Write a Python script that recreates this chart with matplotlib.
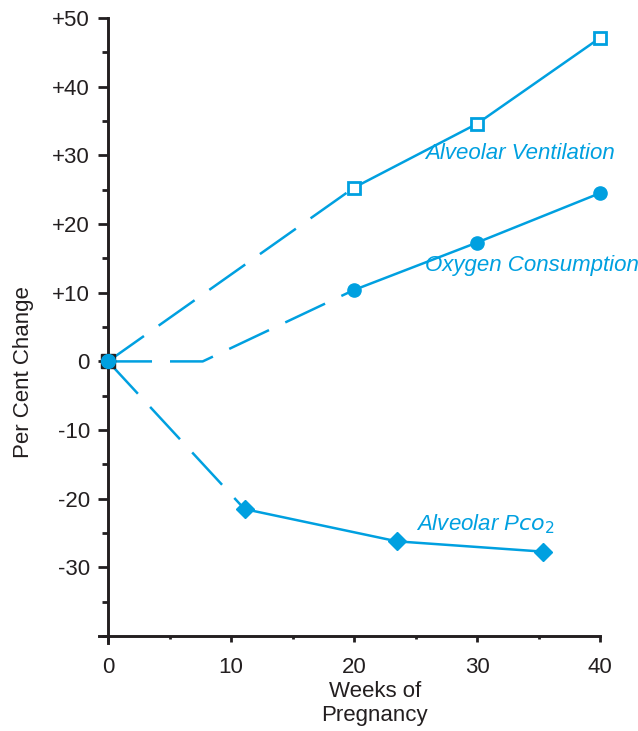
import matplotlib
matplotlib.use("Agg")
import matplotlib.pyplot as plt
from matplotlib.ticker import MultipleLocator

plt.rcParams['font.family'] = ['Liberation Sans', 'DejaVu Sans']

blue = '#00a0e0'
dark = '#231f20'

# weeks of pregnancy and per cent change
weeks_av = [20, 30, 40]
alveolar_vent = [25.3, 34.6, 47.1]
weeks_av_dash = [0, 20]
alveolar_vent_dash = [0, 25.3]

weeks_o2 = [20, 30, 40]
oxygen_cons = [10.4, 17.3, 24.5]
weeks_o2_dash = [0, 7.7, 20]
oxygen_cons_dash = [0, 0, 10.4]

weeks_pco2 = [11.1, 23.5, 35.4]
alveolar_pco2 = [-21.5, -26.2, -27.7]
weeks_pco2_dash = [0, 11.1]
alveolar_pco2_dash = [0, -21.5]

ytick_vals = [-30, -20, -10, 0, 10, 20, 30, 40, 50]
ytick_labels = ['-30', '-20', '-10', '0', '+10', '+20', '+30', '+40', '+50']
xtick_vals = [0, 10, 20, 30, 40]

fig = plt.figure(figsize=(6.38, 7.31), dpi=100)
ax = fig.add_axes([99.4/638, 1 - 643/731, (600 - 99.4)/638, (643 - 18)/731])

lw = 1.8
dash = (0, (17.6, 7.2))
ax.plot(weeks_av_dash, alveolar_vent_dash, color=blue, lw=lw, linestyle=dash)
ax.plot(weeks_o2_dash, oxygen_cons_dash, color=blue, lw=lw, linestyle=dash)
ax.plot(weeks_pco2_dash, alveolar_pco2_dash, color=blue, lw=lw, linestyle=dash)

ax.plot(weeks_av, alveolar_vent, color=blue, lw=lw, marker='s', ms=9,
        mfc='white', mec=blue, mew=2, clip_on=False)
ax.plot(weeks_o2, oxygen_cons, color=blue, lw=lw, marker='o', ms=9.5,
        mfc=blue, mec=blue, clip_on=False)
ax.plot(weeks_pco2, alveolar_pco2, color=blue, lw=lw, marker='D', ms=9.5,
        mfc=blue, mec=blue, clip_on=False)

# origin marker: black square under a blue dot
ax.plot([0], [0], marker='s', ms=10, color=dark, clip_on=False, zorder=5)
ax.plot([0], [0], marker='o', ms=10, color=blue, clip_on=False, zorder=6)

ax.set_xlim(-0.7, 40)
ax.set_ylim(-41, 50)

for s in ['top', 'right']:
    ax.spines[s].set_visible(False)
ax.spines['left'].set_position(('data', 0))
ax.spines['bottom'].set_position(('data', -40))
for s in ['left', 'bottom']:
    ax.spines[s].set_linewidth(2.1)
    ax.spines[s].set_color(dark)

ax.set_yticks(ytick_vals)
ax.set_yticklabels(ytick_labels)
ax.yaxis.set_minor_locator(MultipleLocator(5))
ax.set_xticks(xtick_vals)
ax.xaxis.set_minor_locator(MultipleLocator(5))

ax.tick_params(axis='y', which='major', length=7, width=2, color=dark,
               labelsize=16, pad=6, labelcolor=dark)
ax.tick_params(axis='y', which='minor', length=4, width=2, color=dark)
ax.tick_params(axis='x', which='major', length=4, width=2, color=dark,
               labelsize=16, pad=11, labelcolor=dark)
ax.tick_params(axis='x', which='minor', length=2.5, width=2, color=dark)

ax.set_ylabel('Per Cent Change', fontsize=16, color=dark)
ax.yaxis.set_label_coords(-0.131, 0.434)
ax.set_xlabel('Weeks of\nPregnancy', fontsize=16, linespacing=1.2, color=dark)
ax.xaxis.set_label_coords(0.55, -0.061)

ax.text(25.8, 30.2, 'Alveolar Ventilation', color=blue, fontsize=16,
        style='italic', va='center', ha='left')
ax.text(25.8, 13.9, 'Oxygen Consumption', color=blue, fontsize=16,
        style='italic', va='center', ha='left')
ax.text(25.0, -23.7, 'Alveolar P$\\it{co}_2$', color=blue, fontsize=16,
        style='italic', va='center', ha='left')

fig.savefig('out.png', dpi=100)
